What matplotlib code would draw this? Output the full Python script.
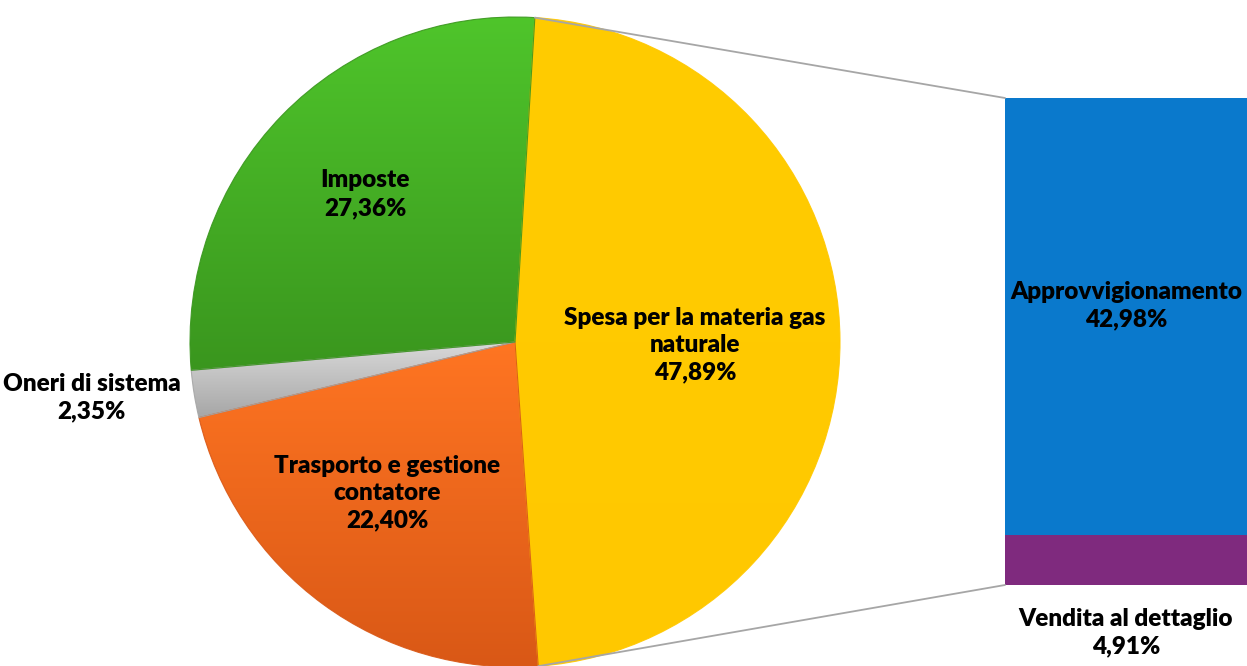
import numpy as np
import matplotlib
matplotlib.use("Agg")
import matplotlib.pyplot as plt
from matplotlib.patches import ConnectionPatch
from matplotlib.colors import LinearSegmentedColormap

# pie data (clockwise from the top, yellow first)
pie_labels = ["Spesa per la materia gas\nnaturale", "Trasporto e gestione\ncontatore",
              "Oneri di sistema", "Imposte"]
pie_values = [47.89, 22.40, 2.35, 27.36]
pie_top = ["#FFCC00", "#FF7522", "#D9D9D9", "#4FC52B"]
pie_bottom = ["#FFC800", "#D95816", "#A6A6A6", "#3A961E"]

# bar data (split of the yellow slice), bottom to top
bar_labels = ["Vendita al dettaglio", "Approvvigionamento"]
bar_values = [4.91, 42.98]
bar_colors = ["#7F2A7E", "#0A79CC"]

plt.rcParams['font.family'] = ['Lato', 'DejaVu Sans']
FS = 17.5
LS = 1.3
FW = "heavy"


def pct(v):
    return f"{v:.2f}".replace(".", ",") + "%"


W, H = 1247, 666
fig = plt.figure(figsize=(W / 100, H / 100), dpi=100)

# pie axes: 650 px square, centre at (515, 342)
ax1 = fig.add_axes([190 / W, (H - 667) / H, 650 / W, 650 / H])
start = 90 - 3.5
wedges, _ = ax1.pie(pie_values, startangle=start, counterclock=False,
                    radius=1, wedgeprops=dict(linewidth=0.8))
ax1.set_xlim(-1, 1)
ax1.set_ylim(-1, 1)
ax1.set_aspect("equal")
ax1.axis("off")

# vertical gradient inside each wedge
inv = ax1.transData.inverted()
for w, c_top, c_bot in zip(wedges, pie_top, pie_bottom):
    cmap = LinearSegmentedColormap.from_list("g", [c_bot, c_top])
    grad = np.linspace(0, 1, 256).reshape(-1, 1)
    bb = w.get_window_extent()
    y0 = inv.transform((0, bb.y0))[1]
    y1 = inv.transform((0, bb.y1))[1]
    im = ax1.imshow(grad, cmap=cmap, extent=[-1, 1, y0, y1], origin="lower",
                    aspect="auto", zorder=w.get_zorder())
    im.set_clip_path(w)
    w.set_facecolor("none")
    w.set_edgecolor(matplotlib.colors.to_rgba(c_bot, 0.9))
    w.set_zorder(im.get_zorder() + 0.5)
ax1.set_xlim(-1, 1)
ax1.set_ylim(-1, 1)

# pie labels
pie_pos = [(0.554, -0.009), (-0.394, -0.465), (-1.302, -0.17), (-0.46, 0.455)]
for lab, v, (x, y) in zip(pie_labels, pie_values, pie_pos):
    ax1.text(x, y, f"{lab}\n{pct(v)}", ha="center", va="center",
             fontsize=FS, fontweight=FW, linespacing=LS,
             color="black", clip_on=False, zorder=10)

# bar axes
ax2 = fig.add_axes([1005 / W, (H - 585) / H, 242 / W, 487 / H])
bottom = 0
for lab, v, c in zip(bar_labels, bar_values, bar_colors):
    ax2.bar(0, v, width=1, bottom=bottom, color=c, edgecolor=c, linewidth=0)
    bottom += v
ax2.set_xlim(-0.5, 0.5)
ax2.set_ylim(0, sum(bar_values))
ax2.axis("off")

ax2.text(0, 27.5, f"{bar_labels[1]}\n{pct(bar_values[1])}", ha="center",
         va="center", fontsize=FS, fontweight=FW, linespacing=LS,
         clip_on=False)
ax2.text(0, -4.7, f"{bar_labels[0]}\n{pct(bar_values[0])}", ha="center",
         va="center", fontsize=FS, fontweight=FW, linespacing=LS,
         clip_on=False)

# connector lines from the yellow slice to the bar
theta_top = np.radians(start)
theta_bot = np.radians(start - pie_values[0] * 3.6)
for theta, yb in [(theta_top, sum(bar_values)), (theta_bot, 0)]:
    con = ConnectionPatch(xyA=(-0.5, yb), coordsA=ax2.transData,
                          xyB=(np.cos(theta), np.sin(theta)), coordsB=ax1.transData,
                          color="#A6A6A6", linewidth=1.3)
    fig.add_artist(con)

fig.savefig("out.png", dpi=100, facecolor="white")
